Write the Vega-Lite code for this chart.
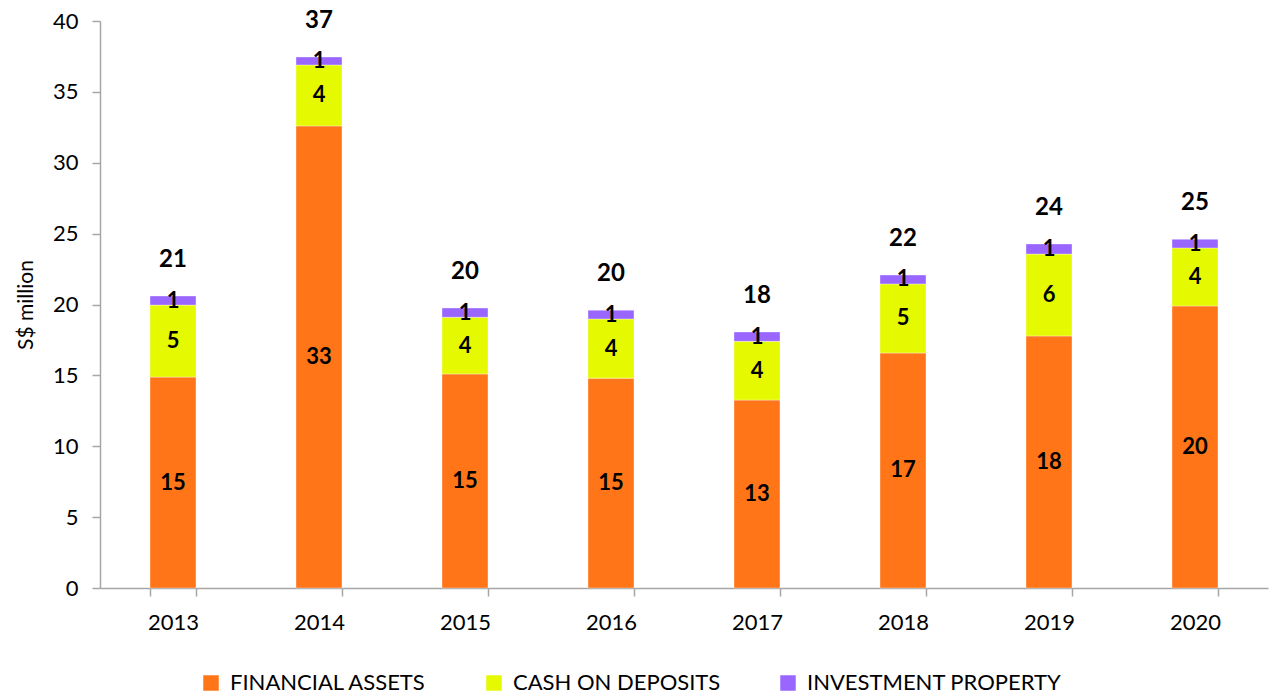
{
  "$schema": "https://vega.github.io/schema/vega-lite/v6.json",
  "autosize": "none",
  "width": 1168,
  "height": 567,
  "padding": {"left": 100, "top": 21, "right": 3, "bottom": 109},
  "background": "white",
  "config": {
    "view": {"stroke": null},
    "font": "Lato",
    "axis": {"labelFont": "Lato", "titleFont": "Lato", "grid": false, "domainColor": "#a6a6a6", "tickColor": "#a6a6a6", "labelColor": "#000000", "titleColor": "#000000"}
  },
  "data": {
    "values": [
      {"year": "2013", "cat": "FINANCIAL ASSETS", "value": 14.88},
      {"year": "2013", "cat": "CASH ON DEPOSITS", "value": 5.08},
      {"year": "2013", "cat": "INVESTMENT PROPERTY", "value": 0.64},
      {"year": "2014", "cat": "FINANCIAL ASSETS", "value": 32.6},
      {"year": "2014", "cat": "CASH ON DEPOSITS", "value": 4.3},
      {"year": "2014", "cat": "INVESTMENT PROPERTY", "value": 0.56},
      {"year": "2015", "cat": "FINANCIAL ASSETS", "value": 15.1},
      {"year": "2015", "cat": "CASH ON DEPOSITS", "value": 4.0},
      {"year": "2015", "cat": "INVESTMENT PROPERTY", "value": 0.65},
      {"year": "2016", "cat": "FINANCIAL ASSETS", "value": 14.8},
      {"year": "2016", "cat": "CASH ON DEPOSITS", "value": 4.18},
      {"year": "2016", "cat": "INVESTMENT PROPERTY", "value": 0.62},
      {"year": "2017", "cat": "FINANCIAL ASSETS", "value": 13.26},
      {"year": "2017", "cat": "CASH ON DEPOSITS", "value": 4.14},
      {"year": "2017", "cat": "INVESTMENT PROPERTY", "value": 0.66},
      {"year": "2018", "cat": "FINANCIAL ASSETS", "value": 16.58},
      {"year": "2018", "cat": "CASH ON DEPOSITS", "value": 4.87},
      {"year": "2018", "cat": "INVESTMENT PROPERTY", "value": 0.63},
      {"year": "2019", "cat": "FINANCIAL ASSETS", "value": 17.78},
      {"year": "2019", "cat": "CASH ON DEPOSITS", "value": 5.78},
      {"year": "2019", "cat": "INVESTMENT PROPERTY", "value": 0.71},
      {"year": "2020", "cat": "FINANCIAL ASSETS", "value": 19.9},
      {"year": "2020", "cat": "CASH ON DEPOSITS", "value": 4.09},
      {"year": "2020", "cat": "INVESTMENT PROPERTY", "value": 0.61}
    ]
  },
  "transform": [
    {"calculate": "indexof(['FINANCIAL ASSETS','CASH ON DEPOSITS','INVESTMENT PROPERTY'], datum.cat)", "as": "ord"},
    {"stack": "value", "groupby": ["year"], "sort": [{"field": "ord", "order": "ascending"}], "as": ["y0", "y1"]},
    {"calculate": "(datum.y0 + datum.y1) / 2", "as": "mid"},
    {"joinaggregate": [{"op": "sum", "field": "value", "as": "total"}], "groupby": ["year"]}
  ],
  "encoding": {
    "x": {
      "field": "year", "type": "nominal", "title": null,
      "scale": {"paddingInner": 0.685, "paddingOuter": 0.3425},
      "axis": {"labelAngle": 0, "labelFontSize": 22, "tickBand": "extent", "tickSize": 8, "labelPadding": 16, "domainWidth": 1.5, "tickWidth": 1.5}
    }
  },
  "layer": [
    {
      "mark": {"type": "bar", "stroke": "#ffffff", "strokeWidth": 0.6, "strokeOpacity": 0.6},
      "encoding": {
        "y": {
          "field": "y0", "type": "quantitative", "title": "S$ million",
          "scale": {"domain": [0, 40], "nice": false},
          "axis": {"values": [0, 5, 10, 15, 20, 25, 30, 35, 40], "labelFontSize": 22, "tickSize": 8, "labelPadding": 14, "titleFontSize": 21, "titleFontWeight": "normal", "titlePadding": 16, "domainWidth": 1.5, "tickWidth": 1.5}
        },
        "y2": {"field": "y1"},
        "color": {
          "field": "cat", "type": "nominal", "title": null,
          "scale": {"domain": ["FINANCIAL ASSETS", "CASH ON DEPOSITS", "INVESTMENT PROPERTY"], "range": ["#FF7518", "#E5FA00", "#9966FF"]},
          "legend": {"orient": "none", "legendX": 100, "legendY": 651, "direction": "horizontal", "symbolType": "square", "symbolSize": 240, "symbolStrokeWidth": 0, "labelFontSize": 22, "labelFont": "Lato", "labelLimit": 400, "columnPadding": 56, "labelOffset": 8}
        }
      }
    },
    {
      "mark": {"type": "text", "fontSize": 22, "fontWeight": "bold", "color": "#000000", "baseline": "middle"},
      "encoding": {
        "y": {"field": "mid", "type": "quantitative"},
        "text": {"field": "value", "type": "quantitative", "format": ".0f"}
      }
    },
    {
      "transform": [{"filter": "datum.ord == 0"}],
      "mark": {"type": "text", "fontSize": 24, "fontWeight": "bold", "color": "#000000", "baseline": "middle", "dy": -36},
      "encoding": {
        "y": {"field": "total", "type": "quantitative"},
        "text": {"field": "total", "type": "quantitative", "format": ".0f"}
      }
    }
  ]
}
